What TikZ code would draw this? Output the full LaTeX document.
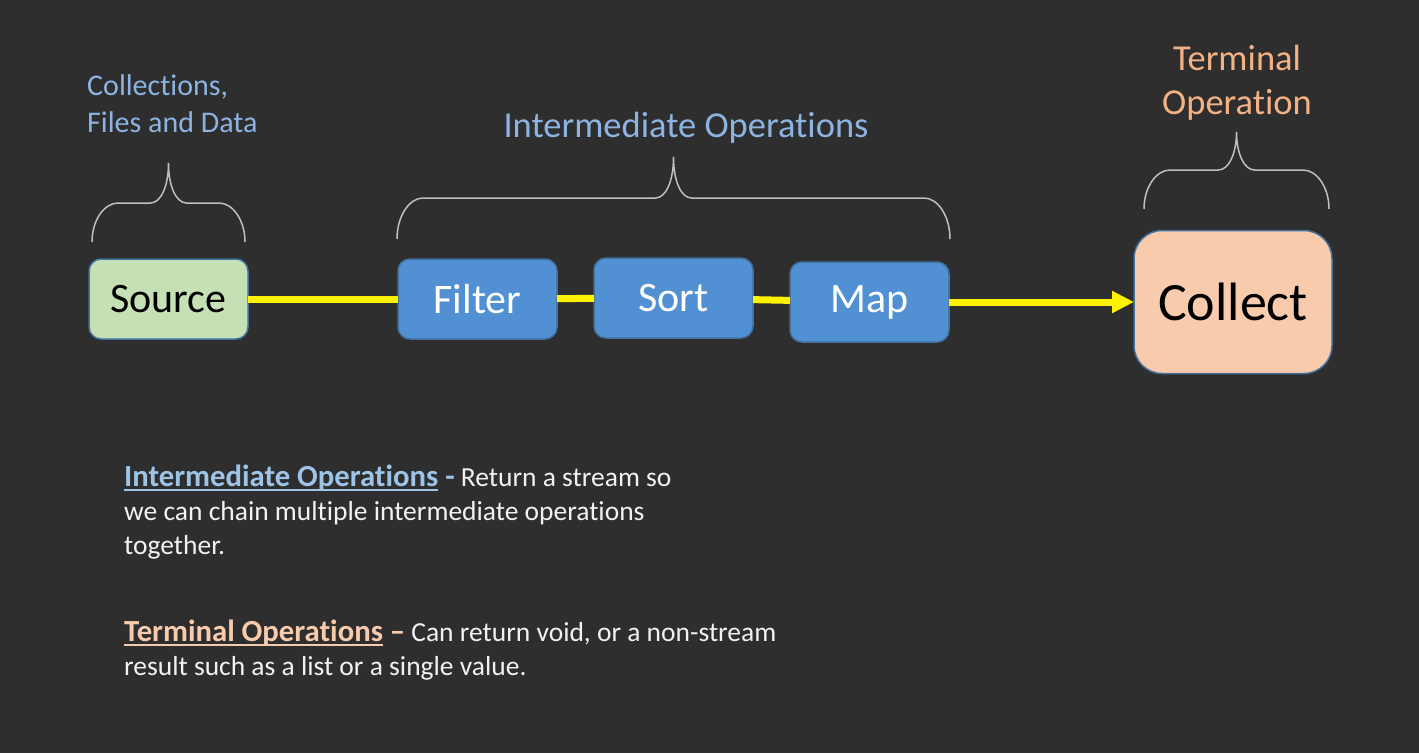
\documentclass[tikz,border=0pt]{standalone}
\usepackage{fontspec}
\setmainfont{Carlito}[Ligatures={NoCommon,NoRare}]
\usetikzlibrary{arrows.meta,positioning}

\definecolor{slide}{HTML}{2E2E2E}
\definecolor{srcgreen}{HTML}{C5E0B4}
\definecolor{opblue}{HTML}{5090D3}
\definecolor{edgeblue}{HTML}{41719C}
\definecolor{termfill}{HTML}{F8CBAD}
\definecolor{labelblue}{HTML}{8DB3E2}
\definecolor{labelorange}{HTML}{F4B183}
\definecolor{noteblue}{HTML}{9DC3E6}
\definecolor{noteorange}{HTML}{F8CBAD}
\definecolor{notewhite}{HTML}{F2F2F2}
\definecolor{braceline}{HTML}{BFBFBF}

% underlined words
\newlength{\ulwd}
\newcommand{\ulbar}[1]{\settowidth{\ulwd}{#1}\rlap{\rule[-4pt]{\ulwd}{2pt}}#1}
\newcommand{\notehead}{\fontsize{30.7}{34}\selectfont\bfseries}

% left x, right x, foot y, bar y, tip y
\newcommand{\curly}[5]{%
  \draw[brace line] (#1,#3) .. controls (#1,{#3-0.55*(#3-#4)}) and ({#1+12},#4) .. ({#1+26},#4)
    -- ({(#1+#2)/2-18},#4) .. controls ({(#1+#2)/2-8},#4) and ({(#1+#2)/2},{#4-16}) .. ({(#1+#2)/2},#5)
    .. controls ({(#1+#2)/2},{#4-16}) and ({(#1+#2)/2+8},#4) .. ({(#1+#2)/2+18},#4)
    -- ({#2-26},#4) .. controls ({#2-12},#4) and (#2,{#3-0.55*(#3-#4)}) .. (#2,#3);}

\begin{document}
\begin{tikzpicture}[x=1pt,y=-1pt,>={Triangle[length=22pt,width=21pt]}]
  \tikzstyle{box}=[rectangle,rounded corners=12pt,draw=edgeblue,line width=1.5pt,
                   outer sep=0pt,minimum width=159pt,minimum height=80pt,
                   font=\fontsize{42}{50}\selectfont]
  \tikzstyle{source box}=[box,fill=srcgreen,text=black]
  \tikzstyle{op box}=[box,fill=opblue,text=white]
  \tikzstyle{end box}=[box,fill=termfill,text=black,rounded corners=28pt,
                       minimum width=198pt,minimum height=143pt,
                       font=\fontsize{54}{64}\selectfont]
  \tikzstyle{pipe}=[draw=yellow,line width=7pt]
  \tikzstyle{brace line}=[draw=braceline,line width=1.5pt]
  \tikzstyle{blue label}=[text=labelblue,inner sep=0pt]
  \tikzstyle{orange label}=[text=labelorange,inner sep=0pt]
  \tikzstyle{note}=[text=notewhite,inner sep=0pt,anchor=north west,align=left,
                    font=\fontsize{27.5}{34}\selectfont]

  \fill[slide] (0,0) rectangle (1419,753);
  \useasboundingbox (0,0) rectangle (1419,753);

  % the pipeline
  \node [source box] (source) at (168.5,299) {Source};
  \node [op box] (filter) [right=150pt of source] {Filter};
  \node [op box] (sort) [right=37pt of filter,yshift=1pt] {Sort};
  \node [op box] (map) [right=37pt of sort,yshift=-4pt] {Map};
  \node [end box] (collect) [right=185pt of map] {Collect};

  \draw [pipe] (source) -- (filter);
  \draw [pipe] (filter) -- (sort);
  \draw [pipe] (sort) -- (map);
  \draw [pipe,->] (map) -- (collect);

  % braces and their labels
  \curly{92}{245}{242}{203}{163}
  \curly{397}{950}{239}{198}{157}
  \curly{1144}{1329}{209}{170}{132}

  \node [blue label,anchor=west,align=left,font=\fontsize{30}{37}\selectfont]
    (srclabel) at (87,104) {Collections,\\Files and Data};
  \node [blue label,font=\fontsize{36.5}{44}\selectfont]
    (midlabel) at (686,128) {Intermediate Operations};
  \node [orange label,align=center,font=\fontsize{36.5}{44}\selectfont]
    (endlabel) at (1237,83) {Terminal\\Operation};

  % notes
  \node [note] (midnote) at (124,465)
    {\textcolor{noteblue}{\notehead\ulbar{Intermediate Operations} -} Return a stream so\\
     we can chain multiple intermediate operations\\
     together.};
  \node [note] (endnote) at (124,620)
    {\textcolor{noteorange}{\notehead\ulbar{Terminal Operations} --} Can return void, or a non-stream\\
     result such as a list or a single value.};
\end{tikzpicture}
\end{document}
